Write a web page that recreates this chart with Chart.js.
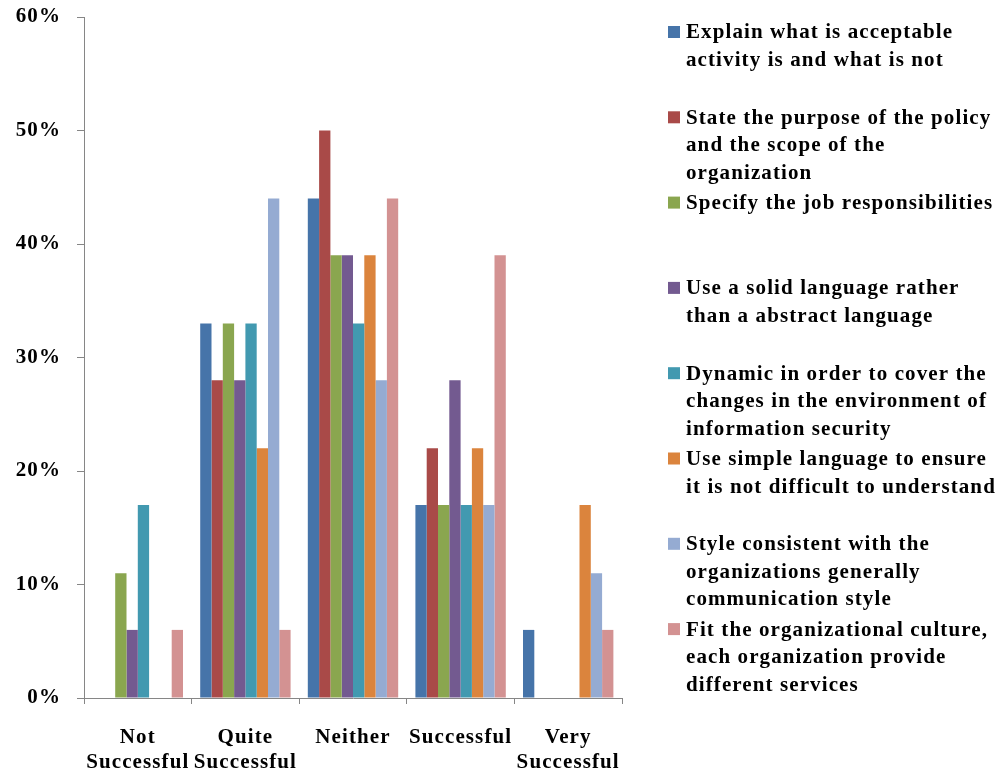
<!DOCTYPE html>
<html>
<head>
<meta charset="utf-8">
<script src="https://cdn.jsdelivr.net/npm/chart.js@4"></script>
<style>
  html, body { margin: 0; padding: 0; background: #ffffff; }
  #wrap { width: 1007px; height: 773px; }
</style>
</head>
<body>
<div id="wrap"><canvas id="chart" width="1007" height="773"></canvas></div>
<script>
// Rating categories (multi-line axis labels)
const categories = [
  ['Not', 'Successful'],
  ['Quite', 'Successful'],
  ['Neither'],
  ['Successful'],
  ['Very', 'Successful']
];

// Y-axis range (percent)
const yMin = 0;
const yMax = 60;
const yStep = 10;

// Policy characteristics (legend text, one entry per line)
const nameExplain  = ['Explain what is acceptable', 'activity is and what is not'];
const nameState    = ['State the purpose of the policy', 'and the scope of the', 'organization'];
const nameSpecify  = ['Specify the job responsibilities'];
const nameSolid    = ['Use a solid language rather', 'than a abstract language'];
const nameDynamic  = ['Dynamic in order to cover the', 'changes in the environment of', 'information security'];
const nameSimple   = ['Use simple language to ensure', 'it is not difficult to understand'];
const nameStyle    = ['Style consistent with the', 'organizations generally', 'communication style'];
const nameFit      = ['Fit the organizational culture,', 'each organization provide', 'different services'];

// Share of responses (%) per category
const valsExplain = [0, 33, 44, 17, 6];
const valsState   = [0, 28, 50, 22, 0];
const valsSpecify = [11, 33, 39, 17, 0];
const valsSolid   = [6, 28, 39, 28, 0];
const valsDynamic = [17, 33, 33, 17, 0];
const valsSimple  = [0, 22, 39, 22, 17];
const valsStyle   = [0, 44, 28, 17, 11];
const valsFit     = [6, 6, 44, 39, 6];

const FONT = "'Liberation Serif', 'Times New Roman', serif";
const FONT_SIZE = 21;
const LETTER_SPACING = '1.1px';
const AXIS_GRAY = '#868686';

const seriesDefs = [
  { name: nameExplain, data: valsExplain, color: '#4674A9' },
  { name: nameState,   data: valsState,   color: '#A94A48' },
  { name: nameSpecify, data: valsSpecify, color: '#8AA64F' },
  { name: nameSolid,   data: valsSolid,   color: '#735A90' },
  { name: nameDynamic, data: valsDynamic, color: '#4299B0' },
  { name: nameSimple,  data: valsSimple,  color: '#DB843D' },
  { name: nameStyle,   data: valsStyle,   color: '#95ABD2' },
  { name: nameFit,     data: valsFit,     color: '#D39292' }
];

// Slightly loose tracking for all canvas text
const tracking = {
  id: 'tracking',
  beforeDraw(chart) { chart.ctx.letterSpacing = LETTER_SPACING; }
};

// Legend on the right: colour square plus wrapped text for each series
const sideLegend = {
  id: 'sideLegend',
  afterDraw(chart) {
    const ctx = chart.ctx;
    ctx.save();
    ctx.letterSpacing = LETTER_SPACING;
    ctx.font = 'bold ' + FONT_SIZE + 'px ' + FONT;
    ctx.textBaseline = 'middle';
    ctx.textAlign = 'left';
    chart.data.datasets.forEach((ds, i) => {
      const y0 = 33 + i * 85.3;
      ctx.fillStyle = ds.backgroundColor;
      ctx.fillRect(668, y0 - 7, 12, 12);
      ctx.fillStyle = '#000000';
      ds.lines.forEach((line, j) => {
        ctx.fillText(line, 686, y0 + j * 27.6);
      });
    });
    ctx.restore();
  }
};

new Chart(document.getElementById('chart'), {
  type: 'bar',
  data: {
    labels: categories,
    datasets: seriesDefs.map(s => ({
      label: s.name.join(' '),
      lines: s.name,
      data: s.data,
      backgroundColor: s.color,
      borderWidth: 0,
      categoryPercentage: 0.84,
      barPercentage: 1.0
    }))
  },
  options: {
    responsive: false,
    animation: false,
    layout: { padding: { top: 17, right: 385, bottom: 0, left: 0 } },
    plugins: {
      legend: { display: false },
      tooltip: { enabled: false }
    },
    scales: {
      x: {
        afterFit(scale) { scale.height = 75; },
        grid: {
          display: true,
          drawOnChartArea: false,
          drawTicks: true,
          tickLength: 6,
          color: AXIS_GRAY,
          offset: true
        },
        border: { display: true, color: AXIS_GRAY, width: 1 },
        ticks: {
          autoSkip: false,
          maxRotation: 0,
          minRotation: 0,
          padding: 21,
          color: '#000000',
          font: { family: FONT, size: FONT_SIZE, weight: 'bold', lineHeight: 1.19 }
        }
      },
      y: {
        min: yMin,
        max: yMax,
        afterFit(scale) {
          scale.width = 84;
          scale.paddingTop = 0;
          scale.paddingBottom = 0;
        },
        grid: {
          display: true,
          drawOnChartArea: false,
          drawTicks: true,
          tickLength: 7,
          color: AXIS_GRAY
        },
        border: { display: true, color: AXIS_GRAY, width: 1 },
        ticks: {
          stepSize: yStep,
          padding: 16,
          color: '#000000',
          font: { family: FONT, size: FONT_SIZE, weight: 'bold' },
          callback: v => v + '%'
        }
      }
    }
  },
  plugins: [tracking, sideLegend]
});
</script>
</body>
</html>
